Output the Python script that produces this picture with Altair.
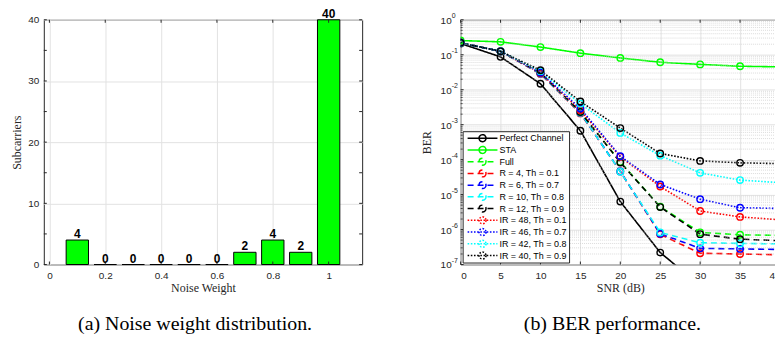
import altair as alt
import pandas as pd

# ---------------- Panel (a): noise weight distribution ----------------
weights = [0.1, 0.2, 0.3, 0.4, 0.5, 0.6, 0.7, 0.8, 0.9, 1.0]
subcarriers = [4, 0, 0, 0, 0, 0, 2, 4, 2, 40]
x_ticks_a = [0, 0.2, 0.4, 0.6, 0.8, 1]
y_ticks_a = [0, 5, 10, 15, 20, 25, 30, 35, 40]

# ---------------- Panel (b): BER performance ----------------
snr = [0, 5, 10, 15, 20, 25, 30, 35, 40]
perfect = [0.21, 0.087, 0.0148, 6.7e-4, 6.3e-6, 2.2e-7, 2.5e-8]
sta = [0.255, 0.234, 0.166, 0.111, 0.081, 0.061, 0.053, 0.047, 0.045]
full = [0.22, 0.125, 0.030, 2.3e-3, 8.6e-5, 4.5e-6, 8.3e-7, 7.1e-7, 6.8e-7]
r4 = [0.22, 0.125, 0.028, 2.1e-3, 4.6e-5, 7.3e-7, 2.1e-7, 2.0e-7, 1.9e-7]
r6 = [0.22, 0.125, 0.029, 2.2e-3, 4.6e-5, 7.6e-7, 2.9e-7, 2.8e-7, 2.7e-7]
r10 = [0.22, 0.125, 0.029, 2.2e-3, 4.5e-5, 8.3e-7, 4.2e-7, 4.0e-7, 3.9e-7]
r12 = [0.22, 0.125, 0.030, 2.3e-3, 8.3e-5, 4.4e-6, 7.4e-7, 5.3e-7, 4.8e-7]
ir48 = [0.22, 0.125, 0.030, 2.6e-3, 1.2e-4, 1.7e-5, 3.4e-6, 2.3e-6, 1.9e-6]
ir46 = [0.22, 0.125, 0.031, 2.9e-3, 1.25e-4, 1.95e-5, 7.4e-6, 4.2e-6, 4.0e-6]
ir42 = [0.22, 0.125, 0.034, 4.0e-3, 5.8e-4, 1.3e-4, 4.2e-5, 2.6e-5, 2.2e-5]
ir40 = [0.22, 0.125, 0.036, 4.6e-3, 8.0e-4, 1.5e-4, 9.2e-5, 8.1e-5, 7.7e-5]

series_names = ["Perfect Channel", "STA", "Full",
                "R = 4, Th = 0.1", "R = 6, Th = 0.7", "R = 10, Th = 0.8", "R = 12, Th = 0.9",
                "IR = 48, Th = 0.1", "IR = 46, Th = 0.7", "IR = 42, Th = 0.8", "IR = 40, Th = 0.9"]
series_values = [perfect, sta, full, r4, r6, r10, r12, ir48, ir46, ir42, ir40]
series_colors = ["#000000", "#00ff00", "#00ff00",
                 "#ff0000", "#0000ff", "#00ffff", "#000000",
                 "#ff0000", "#0000ff", "#00ffff", "#000000"]
series_styles = ["solid", "solid", "dash", "dash", "dash", "dash", "dash", "dot", "dot", "dot", "dot"]

x_ticks_b = [0, 5, 10, 15, 20, 25, 30, 35, 40]
decades = [1e-7, 1e-6, 1e-5, 1e-4, 1e-3, 1e-2, 1e-1, 1e0]
decade_exps = ["-7", "-6", "-5", "-4", "-3", "-2", "-1", "0"]
minor_mult = [2, 3, 4, 5, 6, 7, 8, 9]

# ---------------- layout / style ----------------
W_A, W_B, H = 320, 321, 246
BAR_W = 0.08
TICK = "#262626"
TXT = "#262626"
SANS = "Liberation Sans"
SERIF = "Liberation Serif"
DASHES = {"solid": [1, 0], "dash": [6, 4], "dot": [1.6, 1.6]}

# ---------------- panel (a) ----------------
bars_df = pd.DataFrame({"w": weights, "n": subcarriers})
xs_a = alt.Scale(domain=[-0.02, 1.12], nice=False, zero=False)
ys_a = alt.Scale(domain=[0, 40], nice=False)

bars = alt.Chart(bars_df).transform_calculate(
    x0=f"datum.w - {BAR_W / 2}", x1=f"datum.w + {BAR_W / 2}"
).mark_rect(fill="#00ff00", stroke="#000000", strokeWidth=1).encode(
    x=alt.X("x0:Q", scale=xs_a,
            axis=alt.Axis(values=x_ticks_a, title="Noise Weight", format="~g",
                          labelPadding=6, titlePadding=2)),
    x2="x1:Q",
    y=alt.Y("n:Q", scale=ys_a,
            axis=alt.Axis(values=y_ticks_a, title="Subcarriers",
                          labelPadding=5, titlePadding=4)),
    y2=alt.datum(0),
)

bar_text = alt.Chart(bars_df).transform_calculate(x0="datum.w").mark_text(
    font=SANS, fontWeight="bold", fontSize=12, baseline="alphabetic", dy=-2, color="#000000"
).encode(x="x0:Q", y="n:Q", text="n:Q")

xt_a = pd.DataFrame({"x0": x_ticks_a})
yt_a = pd.DataFrame({"n": y_ticks_a})
ticks_a = [
    alt.Chart(xt_a).mark_rule(color=TICK, strokeWidth=1).encode(x="x0:Q", y=alt.value(H), y2=alt.value(H - 3)),
    alt.Chart(xt_a).mark_rule(color=TICK, strokeWidth=1).encode(x="x0:Q", y=alt.value(0), y2=alt.value(3)),
    alt.Chart(yt_a).mark_rule(color=TICK, strokeWidth=1).encode(y="n:Q", x=alt.value(0), x2=alt.value(3)),
    alt.Chart(yt_a).mark_rule(color=TICK, strokeWidth=1).encode(y="n:Q", x=alt.value(W_A), x2=alt.value(W_A - 3)),
]

left = alt.layer(bars, *ticks_a, bar_text).properties(
    width=W_A, height=H,
    title=alt.TitleParams("(a) Noise weight distribution.", orient="bottom", anchor="middle",
                          frame="group", font=SERIF, fontSize=20, fontWeight="normal",
                          color="#000000", baseline="alphabetic", offset=37, dx=-8),
)

# ---------------- panel (b) ----------------
rows = []
for name, vals in zip(series_names, series_values):
    for s, v in zip(snr, vals):
        rows.append({"snr": s, "ber": v, "series": name})
df_b = pd.DataFrame(rows)

xs_b = alt.Scale(domain=[0, 40], nice=False)
ys_b = alt.Scale(type="log", domain=[1e-7, 1], nice=False)

# legend symbols: line sample (with its dash pattern drawn explicitly) + hollow circle
SYM_SIZE = 64
U = (SYM_SIZE ** 0.5) / 2          # px per symbol unit
HALF = 15 / U                      # half of a 30 px line sample
RAD = 3.5 / U                      # circle radius


def sample_path(style):
    on, off = DASHES[style]
    parts, x = [], -HALF
    if style == "solid":
        parts.append(f"M{-HALF:.3f},0H{HALF:.3f}")
    else:
        while x < HALF - 1e-9:
            x2 = min(x + on / U, HALF)
            parts.append(f"M{x:.3f},0H{x2:.3f}")
            x = x2 + off / U
    parts.append(f"M{RAD:.3f},0A{RAD:.3f},{RAD:.3f} 0 1,1 {-RAD:.3f},0A{RAD:.3f},{RAD:.3f} 0 1,1 {RAD:.3f},0")
    return "".join(parts)


legend_paths = [sample_path(s) for s in series_styles]

leg = alt.Legend(title=None, orient="bottom-left", offset=2,
                 symbolSize=SYM_SIZE, symbolStrokeWidth=1.5,
                 symbolFillColor="transparent", symbolOffset=13, labelOffset=12,
                 labelFont=SANS, labelFontSize=9, labelColor="#000000",
                 padding=2, rowPadding=1.8, clipHeight=10,
                 fillColor="#ffffff", strokeColor=TICK, zindex=1)

minor_df = pd.DataFrame({"ber": [m * d for d in decades[:-1] for m in minor_mult]})
minor_grid = alt.Chart(minor_df).mark_rule(color="#cccccc", strokeWidth=0.7, strokeDash=[1, 1]).encode(y="ber:Q")

lines = alt.Chart(df_b).mark_line(strokeWidth=1.6, clip=True).encode(
    x=alt.X("snr:Q", scale=xs_b,
            axis=alt.Axis(values=x_ticks_b, title="SNR (dB)", labelPadding=6, titlePadding=2)),
    y=alt.Y("ber:Q", scale=ys_b,
            axis=alt.Axis(values=decades, title="BER", labels=False, titlePadding=27)),
    color=alt.Color("series:N", scale=alt.Scale(domain=series_names, range=series_colors), legend=leg),
    strokeDash=alt.StrokeDash("series:N",
                              scale=alt.Scale(domain=series_names, range=[DASHES[s] for s in series_styles]),
                              legend=None),
)

points = alt.Chart(df_b).mark_point(size=42, strokeWidth=1.4, filled=False, opacity=1, clip=True).encode(
    x="snr:Q", y="ber:Q",
    stroke=alt.Stroke("series:N", scale=alt.Scale(domain=series_names, range=series_colors), legend=None),
)

# empty layer that only carries the legend symbol shapes
legend_shapes = alt.Chart(df_b).transform_filter("false").mark_point(filled=False, opacity=1).encode(
    x="snr:Q", y="ber:Q",
    shape=alt.Shape("series:N", scale=alt.Scale(domain=series_names, range=legend_paths), legend=leg),
)

# y tick labels of the log axis: "10" with a raised exponent
lab_df = pd.DataFrame({"ber": decades, "exp": decade_exps})
lab_base = alt.Chart(lab_df).mark_text(font=SANS, fontSize=10, color=TXT, align="right",
                                       baseline="middle", dy=1).encode(
    y="ber:Q", x=alt.value(-9), text=alt.value("10"))
lab_exp = alt.Chart(lab_df).mark_text(font=SANS, fontSize=7, color=TXT, align="left",
                                      baseline="middle", dy=-4).encode(
    y="ber:Q", x=alt.value(-9), text="exp:N")

xt_b = pd.DataFrame({"snr": x_ticks_b})
yt_b = pd.DataFrame({"ber": decades})
ticks_b = [
    alt.Chart(xt_b).mark_rule(color=TICK, strokeWidth=1).encode(x="snr:Q", y=alt.value(H), y2=alt.value(H - 3)),
    alt.Chart(xt_b).mark_rule(color=TICK, strokeWidth=1).encode(x="snr:Q", y=alt.value(0), y2=alt.value(3)),
    alt.Chart(yt_b).mark_rule(color=TICK, strokeWidth=1).encode(y="ber:Q", x=alt.value(0), x2=alt.value(3)),
    alt.Chart(yt_b).mark_rule(color=TICK, strokeWidth=1).encode(y="ber:Q", x=alt.value(W_B), x2=alt.value(W_B - 3)),
    alt.Chart(minor_df).mark_rule(color=TICK, strokeWidth=0.8).encode(y="ber:Q", x=alt.value(0), x2=alt.value(2)),
    alt.Chart(minor_df).mark_rule(color=TICK, strokeWidth=0.8).encode(y="ber:Q", x=alt.value(W_B), x2=alt.value(W_B - 2)),
]

right = alt.layer(lines, minor_grid, *ticks_b, lab_base, lab_exp, points, legend_shapes).properties(
    width=W_B, height=H,
    title=alt.TitleParams("(b) BER performance.", orient="bottom", anchor="middle",
                          frame="group", font=SERIF, fontSize=20, fontWeight="normal",
                          color="#000000", baseline="alphabetic", offset=37, dx=-8),
)

chart = alt.hconcat(left, right, spacing=99, bounds="flush").resolve_scale(
    color="independent", stroke="independent", strokeDash="independent", shape="independent"
).resolve_legend(
    color="independent", stroke="independent", strokeDash="independent", shape="independent"
).properties(
    padding={"left": 2, "top": -2, "right": -6, "bottom": 0}
).configure_view(
    stroke=TICK, strokeWidth=1
).configure_axis(
    labelFont=SANS, labelFontSize=10, labelColor=TXT,
    titleFont=SERIF, titleFontSize=12, titleFontWeight="normal", titleColor=TXT,
    grid=True, gridColor="#e2e2e2", gridWidth=1,
    ticks=False, domain=False,
).configure_legend(
    cornerRadius=0
)

chart.save("out.html", embed_options={"renderer": "svg", "actions": False})
